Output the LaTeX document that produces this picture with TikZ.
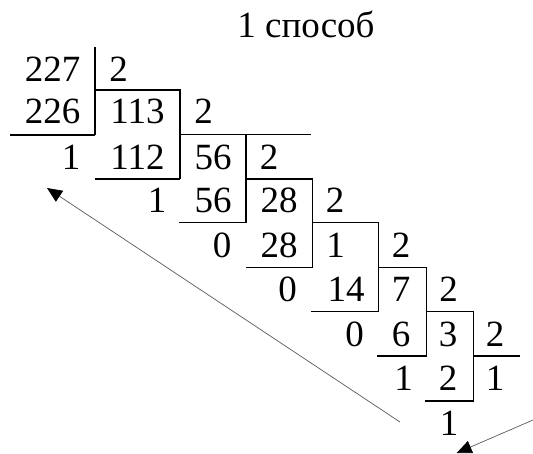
\documentclass[tikz,border=0pt]{standalone}
\usepackage{fontspec}
\setmainfont{Liberation Serif}
\usetikzlibrary{arrows.meta}
\begin{document}
\begin{tikzpicture}[x=1pt,y=-1pt,
  num/.style={inner sep=0pt,anchor=base,font=\fontsize{37}{44}\selectfont},
  rule/.style={line width=1.2pt},
  pointer/.style={draw=black!65,line width=0.7pt,-{Triangle[length=15pt,width=13pt,color=black]}}]
\useasboundingbox (0,0) rectangle (533,454);
\node[num] (title) at (306,38) {1 способ};
\node[num] (a1) at (52.5,82) {227};
\node[num] (d1) at (118.5,82) {2};
\node[num] (a2) at (52.5,123.5) {226};
\node[num] (q1) at (137.5,123.5) {113};
\node[num] (d2) at (203.5,123.5) {2};
\node[num] (r1) at (71,170) {1};
\node[num] (s2) at (137.5,170) {112};
\node[num] (q2) at (213,170) {56};
\node[num] (d3) at (269,170) {2};
\node[num] (r2) at (157,213) {1};
\node[num] (s3) at (213,213) {56};
\node[num] (q3) at (279,213) {28};
\node[num] (d4) at (335,213) {2};
\node[num] (r3) at (222,257.3) {0};
\node[num] (s4) at (279,257.3) {28};
\node[num] (q4) at (335.5,257.3) {1};
\node[num] (d5) at (401,257.3) {2};
\node[num] (r4) at (287.5,301.7) {0};
\node[num] (s5) at (346,301.7) {14};
\node[num] (q5) at (401,301.7) {7};
\node[num] (d6) at (448.5,301.7) {2};
\node[num] (r5) at (354.5,346.7) {0};
\node[num] (s6) at (401,346.7) {6};
\node[num] (q6) at (448,346.7) {3};
\node[num] (d7) at (495,346.7) {2};
\node[num] (r6) at (403.5,390.7) {1};
\node[num] (s7) at (448,390.7) {2};
\node[num] (q7) at (495,390.7) {1};
\node[num] (r7) at (449,435) {1};
% division brackets
\draw[rule] (95,47) -- (95,135);
\draw[rule] (10,135) -- (95,135);
\draw[rule] (95,90) -- (180,90) -- (180,179);
\draw[rule] (95,179) -- (180,179);
\draw[rule] (180,134.5) -- (311,134.5);
\draw[rule] (246,134.5) -- (246,222.7);
\draw[rule] (179,222.7) -- (246,222.7);
\draw[rule] (246,179) -- (312.7,179) -- (312.7,267.5);
\draw[rule] (246,267.5) -- (312.7,267.5);
\draw[rule] (312.7,222.7) -- (378.3,222.7) -- (378.3,311.7);
\draw[rule] (311,311.7) -- (378.3,311.7);
\draw[rule] (378.3,267.7) -- (426.7,267.7) -- (426.7,356);
\draw[rule] (377,356) -- (426.7,356);
\draw[rule] (426.7,311.7) -- (473.5,311.7) -- (473.5,401);
\draw[rule] (473.5,356) -- (520,356);
\draw[rule] (425,401) -- (473.5,401);
% arrows
\coordinate (p1s) at (400,422);
\coordinate (p1e) at (47,188);
\draw[pointer] (p1s) -- (p1e);
\coordinate (p2s) at (533,420);
\coordinate (p2e) at (456.7,453);
\draw[pointer] (p2s) -- (p2e);
\end{tikzpicture}
\end{document}
